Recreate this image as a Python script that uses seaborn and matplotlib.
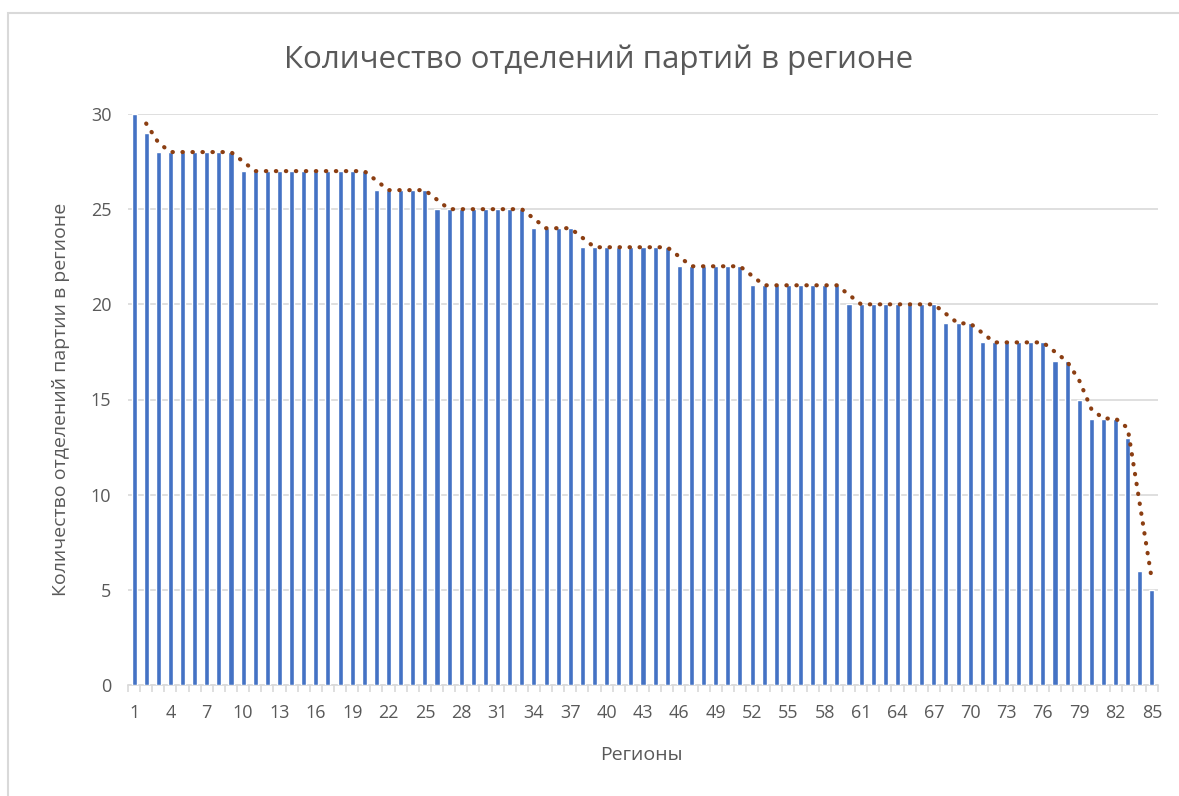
import numpy as np
import pandas as pd
import matplotlib
matplotlib.use("Agg")
import matplotlib.pyplot as plt
import seaborn as sns
from matplotlib.patches import Rectangle

# ---- data ----
regions = list(range(1, 86))
counts = ([30, 29] + [28] * 7 + [27] * 11 + [26] * 5 + [25] * 8 + [24] * 4 +
          [23] * 8 + [22] * 6 + [21] * 8 + [20] * 8 + [19] * 3 + [18] * 6 +
          [17] * 2 + [15] + [14] * 3 + [13] + [6] + [5])
tick_labels = [str(r) for r in regions if (r - 1) % 3 == 0]

title = "Количество отделений партий в регионе"
ylabel = "Количество отделений партии в регионе"
xlabel = "Регионы"

df = pd.DataFrame({"region": regions, "count": counts})
df["pos"] = np.arange(len(df))
df["ma"] = df["count"].rolling(2).mean()

sns.set_theme(style="white")
plt.rcParams["font.family"] = ["Open Sans", "DejaVu Sans"]

GRAY_TXT = "#595959"
GRID = "#D9D9D9"

fig = plt.figure(figsize=(11.79, 7.96), dpi=100)
ax = fig.add_axes([128 / 1179, 1 - 685 / 796, (1158 - 128) / 1179, (685 - 114) / 796])

sns.barplot(data=df, x="pos", y="count", color="#4472C4", width=0.42,
            saturation=1, ax=ax, zorder=3)
sns.lineplot(data=df.dropna(), x="pos", y="ma", ax=ax, color="#8B3E12",
             lw=3.0, zorder=4)
ax.lines[-1].set_linestyle((0, (0.1, 2.3)))
ax.lines[-1].set_dash_capstyle("round")

ax.set_xlim(-0.5, len(regions) - 0.5)
ax.set_ylim(0, 30)
ax.set_yticks(range(0, 31, 5))
ax.set_yticklabels([str(v) for v in range(0, 31, 5)], color=GRAY_TXT, fontsize=13)
ax.set_xticks([i for i in range(len(regions)) if i % 3 == 0])
ax.set_xticklabels(tick_labels, color=GRAY_TXT, fontsize=13)
ax.set_xticks(np.arange(-0.5, len(regions)), minor=True)
ax.tick_params(axis="x", which="major", length=0, pad=14, bottom=True)
ax.tick_params(axis="x", which="minor", length=5, width=1.2, color=GRID,
               direction="out", bottom=True)
ax.tick_params(axis="y", length=0, pad=12)

ax.yaxis.grid(True, color=GRID, lw=1.2, zorder=0)
ax.set_axisbelow(True)
for s in ["top", "right", "left"]:
    ax.spines[s].set_visible(False)
ax.spines["bottom"].set_color(GRID)
ax.spines["bottom"].set_linewidth(1.2)

ax.set_xlabel("")
ax.set_ylabel("")
fig.text(641 / 1179, 1 - 755 / 796, xlabel, ha="center", va="center",
         fontsize=14, color=GRAY_TXT)
fig.text(61 / 1179, 1 - 399 / 796, ylabel, ha="center", va="center",
         rotation=90, fontsize=14, color=GRAY_TXT)
fig.text(599 / 1179, 1 - 60 / 796, title, ha="center", va="center",
         fontsize=22.5, color=GRAY_TXT)

fig.patches.append(Rectangle((8 / 1179, -0.1), 1.5, 1 - 13 / 796 + 0.1,
                             transform=fig.transFigure, fill=False,
                             edgecolor="#D9D9D9", lw=1.5))

fig.savefig("out.png", dpi=100)
